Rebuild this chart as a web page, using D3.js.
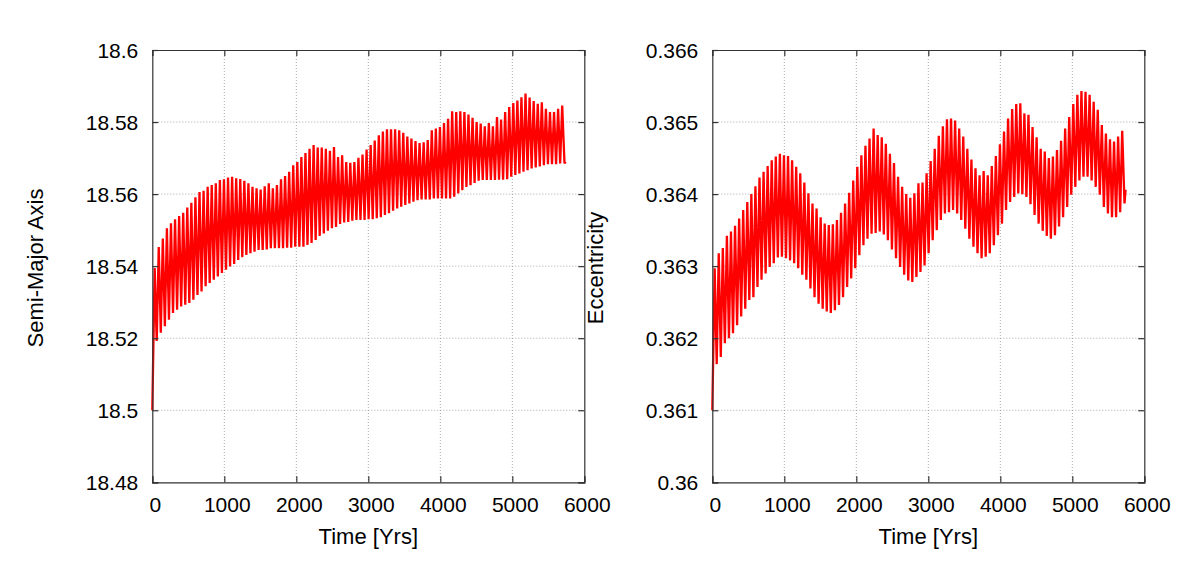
<!DOCTYPE html>
<html>
<head>
<meta charset="utf-8">
<style>
  body { margin: 0; background: #fff; }
  text { font-family: "Liberation Sans", Arial, sans-serif; font-size: 21px; fill: #000; }
  text.title { font-size: 22px; }
</style>
</head>
<body>
<div class="start"></div>
<script src="https://cdn.jsdelivr.net/npm/d3@7/dist/d3.min.js" charset="utf-8"></script>
<script>
// ---- data ----
// one value per oscillation cycle: peak (max) and trough (min) after that peak
var PEAK_T0 = 33;       // yrs, time of first peak
var PERIOD = 56.6;      // yrs, spacing between peaks
var T_END = 5740;       // yrs, last sample

var xTicks = [0, 1000, 2000, 3000, 4000, 5000, 6000];

var smaStart = 18.50;
var smaPeaks = [
  18.5395, 18.5453, 18.5477, 18.5505, 18.5519, 18.5530, 18.5539, 18.5548, 18.5563, 18.5576,
  18.5591, 18.5606, 18.5609, 18.5620, 18.5625, 18.5630, 18.5639, 18.5641, 18.5646, 18.5648,
  18.5644, 18.5642, 18.5637, 18.5630, 18.5620, 18.5616, 18.5613, 18.5622, 18.5630, 18.5616,
  18.5625, 18.5641, 18.5650, 18.5662, 18.5680, 18.5689, 18.5703, 18.5714, 18.5726, 18.5736,
  18.5729, 18.5729, 18.5726, 18.5720, 18.5731, 18.5703, 18.5708, 18.5689, 18.5687, 18.5689,
  18.5701, 18.5710, 18.5724, 18.5736, 18.5749, 18.5763, 18.5774, 18.5780, 18.5780, 18.5780,
  18.5777, 18.5770, 18.5760, 18.5754, 18.5747, 18.5742, 18.5744, 18.5750, 18.5777, 18.5782,
  18.5786, 18.5797, 18.5809, 18.5830, 18.5828, 18.5830, 18.5828, 18.5821, 18.5812, 18.5800,
  18.5796, 18.5788, 18.5797, 18.5788, 18.5814, 18.5807, 18.5828, 18.5842, 18.5853, 18.5860,
  18.5869, 18.5879, 18.5868, 18.5858, 18.5851, 18.5855, 18.5837, 18.5828, 18.5828, 18.5837,
  18.5846
];
var smaTroughs = [
  18.5192, 18.5215, 18.5233, 18.5251, 18.5270, 18.5279, 18.5288, 18.5293, 18.5298, 18.5307,
  18.5320, 18.5330, 18.5344, 18.5353, 18.5362, 18.5371, 18.5381, 18.5390, 18.5399, 18.5406,
  18.5417, 18.5425, 18.5431, 18.5436, 18.5440, 18.5445, 18.5445, 18.5446, 18.5450, 18.5450,
  18.5450, 18.5450, 18.5451, 18.5451, 18.5454, 18.5454, 18.5454, 18.5459, 18.5464, 18.5473,
  18.5484, 18.5491, 18.5498, 18.5505, 18.5509, 18.5517, 18.5521, 18.5523, 18.5526, 18.5528,
  18.5528, 18.5528, 18.5530, 18.5530, 18.5533, 18.5536, 18.5542, 18.5547, 18.5554, 18.5560,
  18.5565, 18.5570, 18.5574, 18.5579, 18.5583, 18.5585, 18.5585, 18.5585, 18.5588, 18.5588,
  18.5588, 18.5588, 18.5588, 18.5593, 18.5602, 18.5611, 18.5620, 18.5625, 18.5631, 18.5637,
  18.5639, 18.5639, 18.5639, 18.5639, 18.5640, 18.5640, 18.5641, 18.5648, 18.5653, 18.5657,
  18.5662, 18.5666, 18.5671, 18.5674, 18.5677, 18.5680, 18.5683, 18.5683, 18.5683, 18.5685
];
var smaEnd = [18.5685, 18.5690];
var smaTicks = [18.48, 18.50, 18.52, 18.54, 18.56, 18.58, 18.60];

var eccStart = 0.361;
var eccPeaks = [
  0.36297, 0.36318, 0.36325, 0.36342, 0.36348, 0.36356, 0.36366, 0.36378, 0.36389, 0.36400,
  0.36411, 0.36423, 0.36431, 0.36439, 0.36447, 0.36452, 0.36456, 0.36454, 0.36453, 0.36447,
  0.36438, 0.36429, 0.36416, 0.36401, 0.36387, 0.36380, 0.36368, 0.36359, 0.36357, 0.36358,
  0.36364, 0.36374, 0.36387, 0.36402, 0.36419, 0.36438, 0.36454, 0.36467, 0.36477, 0.36491,
  0.36482, 0.36479, 0.36470, 0.36456, 0.36443, 0.36424, 0.36410, 0.36400, 0.36395, 0.36401,
  0.36415, 0.36416, 0.36429, 0.36446, 0.36463, 0.36481, 0.36494, 0.36504, 0.36505, 0.36502,
  0.36491, 0.36480, 0.36463, 0.36448, 0.36436, 0.36426, 0.36432, 0.36426, 0.36439, 0.36453,
  0.36469, 0.36487, 0.36505, 0.36518, 0.36525, 0.36526, 0.36512, 0.36510, 0.36493, 0.36479,
  0.36463, 0.36459, 0.36450, 0.36452, 0.36461, 0.36474, 0.36491, 0.36507, 0.36525, 0.36538,
  0.36543, 0.36542, 0.36538, 0.36528, 0.36517, 0.36496, 0.36484, 0.36476, 0.36473, 0.36480,
  0.36488
];
var eccTroughs = [
  0.36164, 0.36174, 0.36193, 0.36200, 0.36207, 0.36218, 0.36230, 0.36241, 0.36253, 0.36257,
  0.36271, 0.36281, 0.36290, 0.36299, 0.36304, 0.36312, 0.36313, 0.36311, 0.36308, 0.36304,
  0.36297, 0.36288, 0.36281, 0.36269, 0.36257, 0.36248, 0.36241, 0.36237, 0.36235, 0.36239,
  0.36246, 0.36257, 0.36271, 0.36283, 0.36297, 0.36315, 0.36329, 0.36338, 0.36345, 0.36346,
  0.36348, 0.36344, 0.36336, 0.36323, 0.36311, 0.36299, 0.36288, 0.36280, 0.36278, 0.36285,
  0.36292, 0.36301, 0.36318, 0.36336, 0.36350, 0.36364, 0.36373, 0.36375, 0.36378, 0.36373,
  0.36364, 0.36352, 0.36338, 0.36327, 0.36318, 0.36311, 0.36313, 0.36318, 0.36329, 0.36343,
  0.36359, 0.36378, 0.36389, 0.36396, 0.36401, 0.36400, 0.36396, 0.36386, 0.36371, 0.36359,
  0.36349, 0.36342, 0.36338, 0.36343, 0.36355, 0.36368, 0.36382, 0.36399, 0.36410, 0.36419,
  0.36424, 0.36424, 0.36419, 0.36410, 0.36399, 0.36382, 0.36373, 0.36368, 0.36368, 0.36375
];
var eccEnd = [0.36387, 0.36406];
var eccTicks = [0.360, 0.361, 0.362, 0.363, 0.364, 0.365, 0.366];

// ---- drawing ----
var W = 1188, H = 577;
var svg = d3.select('.start')
  .append('svg')
  .attr('width', W)
  .attr('height', H);

function buildSeries(start, peaks, troughs, end) {
  var pts = [[0, start]];
  peaks.forEach(function(p, i) {
    var t = PEAK_T0 + i * PERIOD;
    pts.push([t, p]);
    if (i < troughs.length) pts.push([t + PERIOD / 2, troughs[i]]);
  });
  pts.push([T_END - 15, end[0]]);
  pts.push([T_END, end[1]]);
  return pts;
}

function fmtY(d) { return d3.format('~g')(+d.toFixed(4)); }

function drawPanel(left, yDomain, yTicks, series, yLabel, yLabelX) {
  var top = 50, pw = 432, ph = 432.3;
  var x = d3.scaleLinear().domain([0, 6000]).range([0, pw]);
  var y = d3.scaleLinear().domain(yDomain).range([ph, 0]);

  var g = svg.append('g').attr('transform', 'translate(' + left + ',' + top + ')');

  // grid
  g.append('g').selectAll('line').data(xTicks.slice(1, -1)).enter()
    .append('line')
    .attr('x1', function(d) { return x(d); }).attr('x2', function(d) { return x(d); })
    .attr('y1', 0).attr('y2', ph)
    .attr('stroke', '#a8a8a8').attr('stroke-width', 1).attr('stroke-dasharray', '1,2');
  g.append('g').selectAll('line').data(yTicks.slice(1, -1)).enter()
    .append('line')
    .attr('y1', function(d) { return y(d); }).attr('y2', function(d) { return y(d); })
    .attr('x1', 0).attr('x2', pw)
    .attr('stroke', '#a8a8a8').attr('stroke-width', 1).attr('stroke-dasharray', '1,2');

  // data
  var line = d3.line()
    .x(function(d) { return x(d[0]); })
    .y(function(d) { return y(d[1]); });
  g.append('path')
    .datum(series)
    .attr('d', line)
    .attr('fill', 'none')
    .attr('stroke', '#ff0000')
    .attr('stroke-width', 2.3)
    .attr('stroke-linejoin', 'miter')
    .attr('stroke-miterlimit', 3);

  // axes, ticks inward and mirrored
  var tl = 6;
  g.append('g').attr('transform', 'translate(0,' + ph + ')')
    .call(d3.axisBottom(x).tickValues(xTicks).tickSize(-tl).tickFormat(''));
  g.append('g')
    .call(d3.axisTop(x).tickValues(xTicks).tickSize(-tl).tickFormat(''));
  g.append('g')
    .call(d3.axisLeft(y).tickValues(yTicks).tickSize(-tl).tickFormat(''));
  g.append('g').attr('transform', 'translate(' + pw + ',0)')
    .call(d3.axisRight(y).tickValues(yTicks).tickSize(-tl).tickFormat(''));
  g.selectAll('.domain').attr('stroke', '#333').attr('stroke-width', 1.2);
  g.selectAll('.tick line').attr('stroke', '#333').attr('stroke-width', 1.2);

  // tick labels
  g.append('g').selectAll('text').data(xTicks).enter()
    .append('text')
    .attr('x', function(d) { return x(d) + 3; })
    .attr('y', ph + 30)
    .attr('text-anchor', 'middle')
    .text(function(d) { return d; });
  g.append('g').selectAll('text').data(yTicks).enter()
    .append('text')
    .attr('x', -14)
    .attr('y', function(d) { return y(d) + 7.5; })
    .attr('text-anchor', 'end')
    .text(fmtY);

  // titles
  g.append('text')
    .attr('class', 'title')
    .attr('x', pw / 2)
    .attr('y', ph + 62)
    .attr('text-anchor', 'middle')
    .text('Time [Yrs]');
  svg.append('text')
    .attr('class', 'title')
    .attr('transform', 'translate(' + yLabelX + ',268) rotate(-90)')
    .attr('text-anchor', 'middle')
    .text(yLabel);
}

drawPanel(152.3, [18.48, 18.60], smaTicks,
  buildSeries(smaStart, smaPeaks, smaTroughs, smaEnd), 'Semi-Major Axis', 43);
drawPanel(712.3, [0.360, 0.366], eccTicks,
  buildSeries(eccStart, eccPeaks, eccTroughs, eccEnd), 'Eccentricity', 603);
</script>
</body>
</html>
